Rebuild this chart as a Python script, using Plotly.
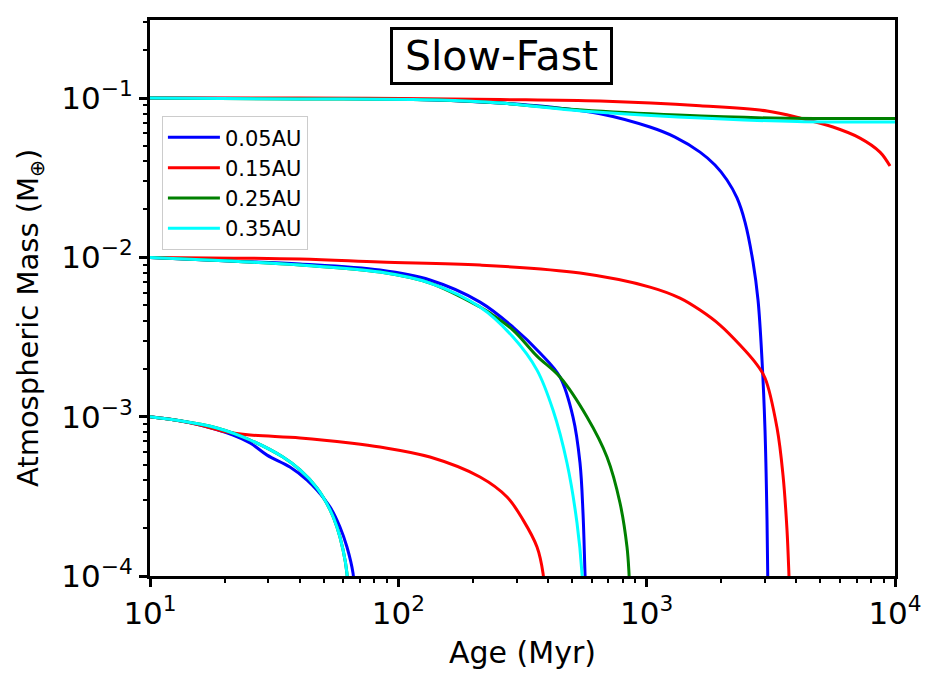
import plotly.graph_objects as go

# ---- data ----
# Blue: 0.05 AU
blue_t1 = [10, 40.2, 101.6, 256.7, 408.1, 648.7, 1031, 1301, 1640, 1884, 2106, 2311, 2489, 2681, 2808, 2914, 2996, 3052, 3082]
blue_m1 = [0.1, 0.0993, 0.0986, 0.093, 0.0878, 0.0798, 0.0658, 0.0569, 0.0458, 0.038, 0.0306, 0.0236, 0.01666, 0.00935, 0.0054, 0.00227, 0.000825, 0.000225, 0.0000706]
blue_t2 = [10, 21.0, 40.2, 84.4, 134.1, 213.3, 289.6, 372, 447.7, 505.1, 539, 554.2, 564.5, 569.8]
blue_m2 = [0.01, 0.00948, 0.00908, 0.00832, 0.00721, 0.00524, 0.00365, 0.00251, 0.001774, 0.000995, 0.000512, 0.000248, 0.000104, 0.0000706]
blue_t3 = [10, 12.6, 15.9, 21.6, 25.3, 29.6, 36.6, 42.9, 47.0, 53.1, 58.2, 62.1, 65.7, 66.9]
blue_m3 = [0.001, 0.000953, 0.000887, 0.000767, 0.000684, 0.000574, 0.000483, 0.0004, 0.000346, 0.000271, 0.000203, 0.000152, 0.000104, 0.0000706]

# Red: 0.15 AU
red_t1 = [10, 40.2, 101.6, 256.7, 648.7, 1640, 3052, 4145, 5627, 7228, 8701, 9548]
red_m1 = [0.1, 0.1, 0.0993, 0.0979, 0.0957, 0.0895, 0.0829, 0.0749, 0.0658, 0.0561, 0.0458, 0.0374]
red_t2 = [10, 40.2, 84.4, 213.3, 539, 1031, 1362, 1640, 1974, 2376, 2731, 2996, 3350, 3540, 3674, 3743, 3800]
red_m2 = [0.01, 0.00976, 0.00935, 0.00895, 0.00797, 0.00651, 0.00555, 0.00467, 0.00376, 0.00282, 0.0022, 0.00175, 0.000849, 0.00043, 0.000194, 0.0000986, 0.00005]
red_t3 = [10, 12.6, 15.9, 20.4, 25.3, 40.2, 63.9, 84.4, 134.1, 213.3, 274, 317.8, 361.8, 382.5, 389.6]
red_m3 = [0.001, 0.000953, 0.000887, 0.000801, 0.000767, 0.000735, 0.000684, 0.000645, 0.000558, 0.000418, 0.000313, 0.000225, 0.000152, 0.000104, 0.0000706]

# Green: 0.25 AU
green_t1 = [10, 40.2, 144.5, 256.7, 549, 1337, 3228, 10000]
green_m1 = [0.1, 0.0988, 0.0971, 0.093, 0.0841, 0.0782, 0.0749, 0.0745]
green_t2 = [10, 21.0, 40.2, 84.4, 134.1, 213.3, 234, 289.6, 361.8, 447.7, 575.2, 692.2, 781, 833.4, 848.9, 856.8]
green_m2 = [0.01, 0.00948, 0.00895, 0.00809, 0.0069, 0.00488, 0.00447, 0.0035, 0.0024, 0.001774, 0.000995, 0.000558, 0.000287, 0.000152, 0.000104, 0.0000706]
green_t3 = [10, 12.6, 18.6, 25.3, 34.3, 40.2, 47.0, 53.1, 56.6, 59.9, 62.1, 62.7]
green_m3 = [0.001, 0.000953, 0.000849, 0.000714, 0.000558, 0.000463, 0.000357, 0.00026, 0.000203, 0.000146, 0.000104, 0.0000706]

# Cyan: 0.35 AU
cyan_t1 = [10, 40.2, 144.5, 256.7, 549, 1337, 4031, 10000]
cyan_m1 = [0.1, 0.0988, 0.0971, 0.093, 0.0829, 0.076, 0.0712, 0.0707]
cyan_t2 = [10, 21.0, 40.2, 84.4, 134.1, 213.3, 289.6, 361.8, 419.6, 477.7, 524.2, 549, 554.2]
cyan_m2 = [0.01, 0.00948, 0.00895, 0.00809, 0.0069, 0.00488, 0.00316, 0.00196, 0.0011, 0.000512, 0.000215, 0.000104, 0.0000706]
cyan_t3 = [10, 12.6, 18.6, 25.3, 34.3, 40.2, 47.0, 53.1, 56.6, 59.9, 62.1, 62.7]
cyan_m3 = [0.001, 0.000953, 0.000849, 0.000714, 0.000558, 0.000463, 0.000357, 0.00026, 0.000203, 0.000146, 0.000104, 0.0000706]

labels = ["0.05AU", "0.15AU", "0.25AU", "0.35AU"]
colors = ["#0000ff", "#ff0000", "#008000", "#00ffff"]
series = [
    [(blue_t1, blue_m1), (blue_t2, blue_m2), (blue_t3, blue_m3)],
    [(red_t1, red_m1), (red_t2, red_m2), (red_t3, red_m3)],
    [(green_t1, green_m1), (green_t2, green_m2), (green_t3, green_m3)],
    [(cyan_t1, cyan_m1), (cyan_t2, cyan_m2), (cyan_t3, cyan_m3)],
]

x_tickvals = [10, 100, 1000, 10000]
x_ticktext = ["10<sup>1</sup>", "10<sup>2</sup>", "10<sup>3</sup>", "10<sup>4</sup>"]
y_tickvals = [1e-4, 1e-3, 1e-2, 1e-1]
y_ticktext = ["10<sup>−4</sup>", "10<sup>−3</sup>", "10<sup>−2</sup>", "10<sup>−1</sup>"]
x_minor = [k * 10 ** e for e in (1, 2, 3) for k in range(2, 10)]
y_minor = [k * 10.0 ** e for e in (-4, -3, -2, -1) for k in range(2, 10)]

fig = go.Figure()
for lab, col, segs in zip(labels, colors, series):
    xs, ys = [], []
    for t, m in segs:
        xs += list(t) + [None]
        ys += list(m) + [None]
    fig.add_trace(go.Scatter(x=xs, y=ys, mode="lines", name=lab,
                             line=dict(color=col, width=3, shape="spline", smoothing=1.0),
                             connectgaps=False))

FONT = "DejaVu Sans"
axis_common = dict(
    type="log", showline=True, linecolor="black", linewidth=3, mirror=True,
    ticks="outside", ticklen=8, tickwidth=2.5, tickcolor="black",
    showgrid=False, zeroline=False, tickmode="array",
    tickfont=dict(family=FONT, size=31, color="black"),
)

fig.update_layout(
    width=939, height=682,
    margin=dict(l=150, r=44, t=20, b=106),
    paper_bgcolor="white", plot_bgcolor="white",
    font=dict(family=FONT, color="black"),
    xaxis=dict(range=[1, 4], tickvals=x_tickvals, ticktext=x_ticktext,
               minor=dict(tickmode="array", tickvals=x_minor, ticks="outside", ticklen=4,
                          tickwidth=1.5, tickcolor="black", showgrid=False),
               title=dict(text="Age (Myr)", font=dict(family=FONT, size=30), standoff=12),
               **axis_common),
    yaxis=dict(range=[-4, -0.51], tickvals=y_tickvals, ticktext=y_ticktext,
               minor=dict(tickmode="array", tickvals=y_minor, ticks="outside", ticklen=4,
                          tickwidth=1.5, tickcolor="black", showgrid=False),
               **axis_common),
    legend=dict(x=0.016, y=0.827, xanchor="left", yanchor="top",
                bgcolor="white", bordercolor="#cccccc", borderwidth=1,
                font=dict(family=FONT, size=21, color="black"), itemwidth=52),
    showlegend=True,
    annotations=[
        dict(text="Slow-Fast", x=0.472, y=0.935, xref="paper", yref="paper",
             xanchor="center", yanchor="middle", showarrow=False, width=209, height=44,
             font=dict(family=FONT, size=41, color="black"),
             bordercolor="black", borderwidth=3, borderpad=4, bgcolor="white"),
        dict(text="Atmospheric Mass (M<sub>⊕</sub>)", x=-0.161, y=0.464, xref="paper", yref="paper",
             xanchor="center", yanchor="middle", showarrow=False, textangle=-90,
             font=dict(family=FONT, size=29, color="black")),
    ],
)

fig.write_html("out.html")
